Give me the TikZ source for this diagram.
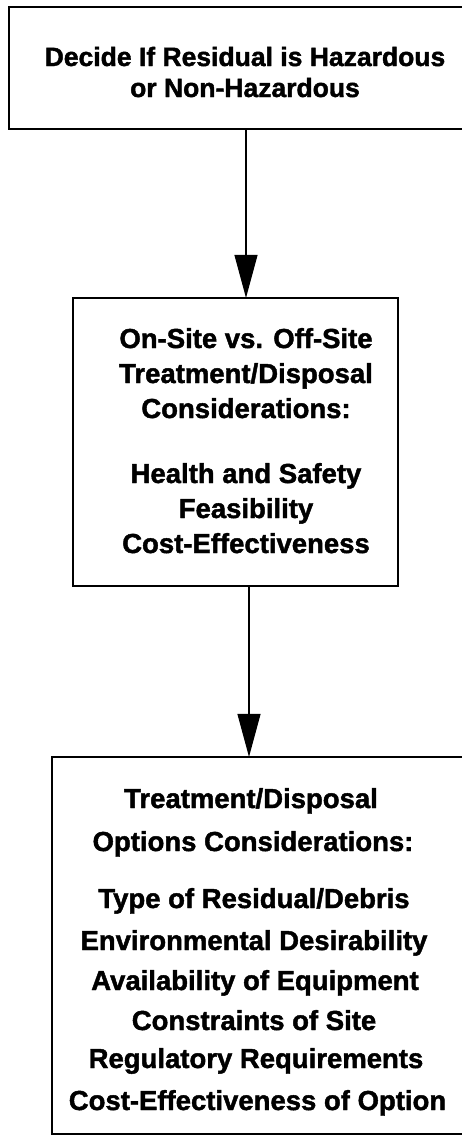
\documentclass[tikz,border=0pt]{standalone}
\usepackage{fontspec}
\setmainfont{Liberation Sans}
\newfontfamily\heavyfont[FakeBold=1.6]{Liberation Sans Bold}
\usetikzlibrary{arrows.meta}
\tikzset{
  box/.style={draw=black, line width=2.2pt, rectangle, inner sep=0pt},
  txtA/.style={anchor=base, inner sep=0pt, font=\fontsize{26.5}{31}\selectfont\heavyfont},
  txtB/.style={anchor=base, inner sep=0pt, font=\fontsize{27.5}{35}\selectfont\heavyfont},
  arr/.style={line width=1.2pt, -{Triangle[width=23pt,length=43pt]}, shorten >=-1pt}
}
\begin{document}
\begin{tikzpicture}[x=1pt,y=-1pt]
\useasboundingbox (0,0) rectangle (461,1136);
% boxes
\node[box, minimum width=472pt, minimum height=122pt] (b1) at (245,68) {};
\node[box, minimum width=325pt, minimum height=288pt] (b2) at (235.5,442) {};
\node[box, minimum width=412pt, minimum height=377pt] (b3) at (258,945.5) {};
% box 1 text
\node[txtA] (t11) at (245,66) {Decide If Residual is Hazardous};
\node[txtA] (t12) at (245,97) {or Non-Hazardous};
% box 2 text
\node[txtB] (t21) at (246,348) {On-Site vs. Off-Site};
\node[txtB] (t22) at (246,383) {Treatment/Disposal};
\node[txtB] (t23) at (246,418) {Considerations:};
\node[txtB] (t24) at (246,483) {Health and Safety};
\node[txtB] (t25) at (246,518) {Feasibility};
\node[txtB] (t26) at (246,553) {Cost-Effectiveness};
% box 3 text
\node[txtB] (t31) at (251,808) {Treatment/Disposal};
\node[txtB] (t32) at (253,851) {Options Considerations:};
\node[txtB] (t33) at (254,908) {Type of Residual/Debris};
\node[txtB] (t34) at (254,950) {Environmental Desirability};
\node[txtB] (t35) at (255,990) {Availability of Equipment};
\node[txtB] (t36) at (254,1030) {Constraints of Site};
\node[txtB] (t37) at (256,1068) {Regulatory Requirements};
\node[txtB] (t38) at (257.5,1110) {Cost-Effectiveness of Option};
% connectors
\coordinate (x1) at (246,0);
\coordinate (x2) at (249,0);
\draw[arr] (b1.south -| x1) -- (b2.north -| x1);
\draw[arr] (b2.south -| x2) -- (b3.north -| x2);
\end{tikzpicture}
\end{document}
